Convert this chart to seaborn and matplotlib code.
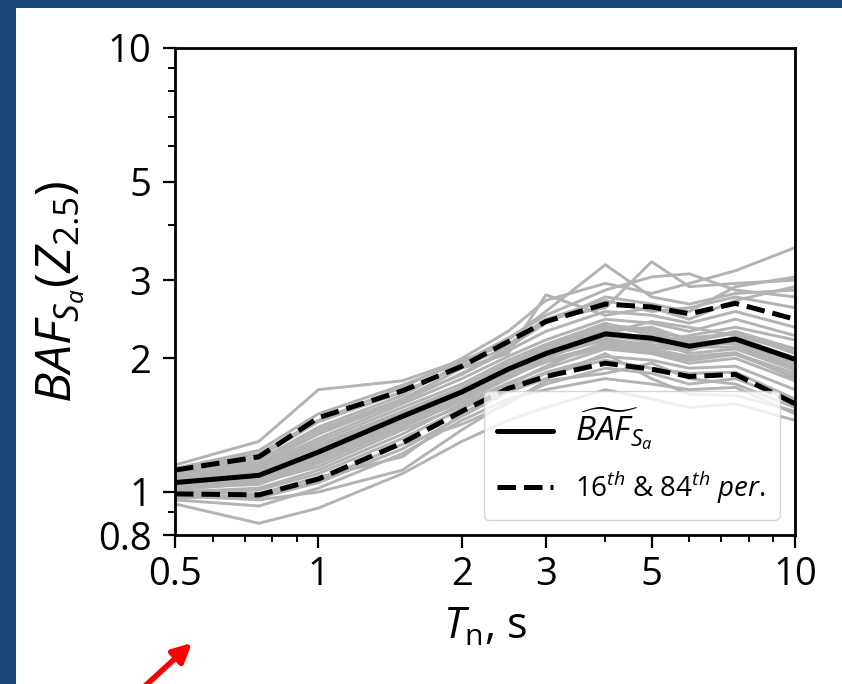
import matplotlib
matplotlib.use("Agg")
import numpy as np
import pandas as pd
import matplotlib.pyplot as plt
import seaborn as sns
from matplotlib.patches import Rectangle

# ---------------- data ----------------
periods = [0.5, 0.75, 1.0, 1.5, 2.0, 2.5, 3.0, 4.0, 5.0, 6.0, 7.5, 10.0]

median = [1.05, 1.09, 1.23, 1.48, 1.68, 1.89, 2.05, 2.27, 2.22, 2.13, 2.21, 1.99]
p84 = [1.12, 1.20, 1.47, 1.69, 1.92, 2.18, 2.42, 2.65, 2.61, 2.52, 2.66, 2.45]
p16 = [0.99, 0.985, 1.07, 1.29, 1.52, 1.71, 1.82, 1.95, 1.89, 1.82, 1.84, 1.58]

g01 = [1.04, 1.08, 1.20, 1.45, 1.66, 1.86, 2.02, 2.20, 2.15, 2.10, 2.18, 1.95]
g02 = [1.06, 1.12, 1.28, 1.52, 1.72, 1.95, 2.12, 2.35, 2.30, 2.22, 2.28, 2.05]
g03 = [1.02, 1.04, 1.16, 1.40, 1.60, 1.80, 1.98, 2.15, 2.08, 2.00, 2.05, 1.85]
g04 = [1.08, 1.13, 1.30, 1.55, 1.75, 1.98, 2.15, 2.40, 2.25, 2.18, 2.30, 2.10]
g05 = [1.00, 1.02, 1.12, 1.35, 1.58, 1.76, 1.90, 2.10, 2.05, 1.95, 2.00, 1.78]
g06 = [1.05, 1.10, 1.25, 1.50, 1.70, 1.90, 2.08, 2.30, 2.35, 2.20, 2.15, 1.92]
g07 = [1.07, 1.11, 1.26, 1.46, 1.64, 1.84, 2.00, 2.25, 2.18, 2.25, 2.35, 2.20]
g08 = [1.03, 1.06, 1.18, 1.42, 1.62, 1.84, 2.04, 2.32, 2.20, 2.05, 2.10, 1.88]
g09 = [1.09, 1.14, 1.32, 1.58, 1.80, 2.02, 2.20, 2.45, 2.40, 2.30, 2.45, 2.25]
g10 = [1.01, 1.05, 1.14, 1.38, 1.56, 1.74, 1.92, 2.18, 2.10, 2.02, 2.06, 1.80]
g11 = [1.06, 1.09, 1.22, 1.47, 1.67, 1.92, 2.10, 2.28, 2.42, 2.35, 2.25, 2.08]
g12 = [1.04, 1.07, 1.21, 1.44, 1.72, 1.88, 2.06, 2.22, 2.12, 2.08, 2.24, 2.00]
g13 = [1.10, 1.16, 1.36, 1.62, 1.84, 2.08, 2.30, 2.55, 2.50, 2.40, 2.55, 2.35]
g14 = [0.99, 1.01, 1.10, 1.32, 1.54, 1.72, 1.86, 2.02, 1.98, 1.90, 1.92, 1.70]
g15 = [1.05, 1.10, 1.24, 1.49, 1.69, 1.89, 2.07, 2.35, 2.28, 2.16, 2.20, 1.98]
g16 = [1.07, 1.12, 1.27, 1.51, 1.70, 1.93, 2.14, 2.38, 2.32, 2.12, 2.12, 1.90]
g17 = [1.03, 1.07, 1.19, 1.43, 1.65, 1.85, 2.01, 2.26, 2.24, 2.18, 2.28, 2.10]
g18 = [1.02, 1.05, 1.17, 1.40, 1.63, 1.82, 1.96, 2.12, 2.06, 1.98, 2.04, 1.82]
h01 = [1.15, 1.30, 1.70, 1.78, 1.98, 2.15, 2.45, 2.70, 2.55, 2.60, 2.75, 2.60]
h02 = [1.10, 1.18, 1.40, 1.65, 1.95, 2.20, 2.55, 3.25, 2.75, 2.65, 2.80, 2.85]
h03 = [1.08, 1.15, 1.35, 1.60, 1.85, 2.10, 2.45, 2.60, 3.30, 2.90, 2.95, 3.00]
h04 = [1.12, 1.22, 1.45, 1.72, 2.00, 2.30, 2.70, 2.95, 2.80, 2.95, 3.15, 3.55]
h05 = [1.10, 1.16, 1.38, 1.62, 1.90, 2.05, 2.78, 2.50, 2.60, 2.45, 2.70, 2.90]
h06 = [1.13, 1.24, 1.50, 1.74, 1.96, 2.22, 2.50, 2.85, 3.05, 3.10, 2.85, 2.75]
h07 = [1.11, 1.20, 1.44, 1.68, 1.92, 2.12, 2.40, 2.75, 2.65, 2.55, 2.90, 3.05]
l01 = [0.94, 0.85, 0.92, 1.10, 1.30, 1.45, 1.55, 1.70, 1.62, 1.55, 1.58, 1.45]
l02 = [0.98, 0.96, 1.00, 1.12, 1.38, 1.60, 1.75, 1.90, 1.85, 1.75, 1.80, 1.60]
l03 = [0.96, 0.93, 1.02, 1.22, 1.45, 1.62, 1.70, 1.80, 1.75, 1.70, 1.72, 1.50]
l04 = [0.99, 0.97, 1.05, 1.25, 1.48, 1.68, 1.80, 2.05, 1.80, 1.66, 1.65, 1.52]
l05 = [0.97, 0.98, 1.06, 1.28, 1.42, 1.58, 1.78, 1.85, 1.95, 1.80, 1.75, 1.55]
l06 = [1.00, 0.99, 1.08, 1.20, 1.50, 1.70, 1.85, 1.98, 1.90, 1.85, 1.86, 1.62]

records = [g01, g02, g03, g04, g05, g06, g07, g08, g09, g10, g11, g12, g13,
           g14, g15, g16, g17, g18, h01, h02, h03, h04, h05, h06, h07,
           l01, l02, l03, l04, l05, l06]

x_ticks = [0.5, 1, 2, 3, 5, 10]
x_tick_labels = ["0.5", "1", "2", "3", "5", "10"]
x_minor = [0.6, 0.7, 0.8, 0.9, 4, 6, 7, 8, 9]
y_ticks = [0.8, 1, 2, 3, 5, 10]
y_tick_labels = ["0.8", "1", "2", "3", "5", "10"]
y_minor = [0.9, 4, 6, 7, 8, 9]

# ---------------- style ----------------
sns.set_style("ticks")
plt.rcParams["font.family"] = ["Open Sans", "DejaVu Sans"]
plt.rcParams["mathtext.fontset"] = "custom"
plt.rcParams["mathtext.rm"] = "Open Sans"
plt.rcParams["mathtext.it"] = "Open Sans:italic"
plt.rcParams["mathtext.bf"] = "Open Sans:bold"
plt.rcParams["text.color"] = "black"
plt.rcParams["axes.labelcolor"] = "black"
plt.rcParams["xtick.color"] = "black"
plt.rcParams["ytick.color"] = "black"

fig = plt.figure(figsize=(8.42, 6.84), dpi=100)
fig.patch.set_facecolor("white")
ax = fig.add_axes([175 / 842, 1 - 535 / 684, 620 / 842, (535 - 48) / 684])

long = pd.DataFrame({
    "T": np.tile(periods, len(records)),
    "BAF": np.concatenate([np.asarray(r, float) for r in records]),
    "rec": np.repeat(np.arange(len(records)), len(periods)),
})
sns.lineplot(data=long, x="T", y="BAF", units="rec", estimator=None,
             color="#b3b3b3", lw=2.1, ax=ax, legend=False)

sumdf = pd.DataFrame({"T": periods, "med": median, "hi": p84, "lo": p16})
sns.lineplot(data=sumdf, x="T", y="med", color="black", lw=3.6, ax=ax,
             label=r"$\widetilde{BAF}_{S_a}$")
sns.lineplot(data=sumdf, x="T", y="hi", color="black", lw=3.6, ls="--", ax=ax,
             label=r"$16^{th}$ & $84^{th}$ $per.$")
sns.lineplot(data=sumdf, x="T", y="lo", color="black", lw=3.6, ls="--", ax=ax)

ax.set_xscale("log")
ax.set_yscale("log")
ax.set_xlim(0.5, 10)
ax.set_ylim(0.8, 10)
ax.set_xticks(x_ticks)
ax.set_xticklabels(x_tick_labels)
ax.set_xticks(x_minor, minor=True)
ax.set_xticklabels([""] * len(x_minor), minor=True)
ax.set_yticks(y_ticks)
ax.set_yticklabels(y_tick_labels)
ax.set_yticks(y_minor, minor=True)
ax.set_yticklabels([""] * len(y_minor), minor=True)

ax.tick_params(axis="both", which="major", labelsize=27.5, length=9, width=1.6,
               color="black", labelcolor="black", direction="out")
ax.tick_params(axis="y", which="major", pad=8)
ax.tick_params(axis="x", which="major", pad=6)
ax.tick_params(axis="both", which="minor", length=5, width=1.4, color="black",
               direction="out")
for s in ax.spines.values():
    s.set_visible(True)
    s.set_linewidth(2.0)
    s.set_color("black")

ax.set_xlabel(r"$T_{\rm n}$, s", fontsize=31, labelpad=8)
ax.set_ylabel(r"$BAF_{S_a}(Z_{2.5})$", fontsize=36, labelpad=8)

leg = ax.legend(loc="lower right", fontsize=20, frameon=True, borderaxespad=0.55,
                labelspacing=0.65, borderpad=0.5, handletextpad=0.8)
leg.get_texts()[0].set_fontsize(24)

# slide decorations: blue border strips and red arrow
fig.patches.append(Rectangle((0, 0), 16 / 842, 1, transform=fig.transFigure,
                             facecolor="#1e487c", edgecolor="none", zorder=-1))
fig.patches.append(Rectangle((0, 1 - 8 / 684), 1, 8 / 684, transform=fig.transFigure,
                             facecolor="#1e487c", edgecolor="none", zorder=-1))
ax.annotate("", xy=(192 / 842, 41 / 684), xytext=(145 / 842, -2 / 684),
            xycoords="figure fraction", textcoords="figure fraction",
            arrowprops=dict(arrowstyle="-|>", color="red", lw=4,
                            mutation_scale=28, shrinkA=0, shrinkB=0),
            annotation_clip=False)

fig.savefig("out.png", dpi=100)
